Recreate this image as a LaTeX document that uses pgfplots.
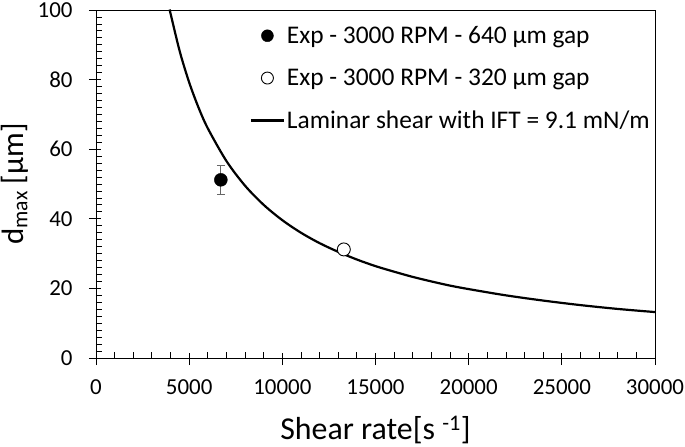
\documentclass[border=0pt]{standalone}
\usepackage{fontspec}
\setmainfont{Carlito}
\usepackage{pgfplots}
\pgfplotsset{compat=1.18}
\pgfplotsset{
    markleg/.style={legend image code/.code={\draw[mark repeat=2, mark phase=2, mark size=6bp, ##1] plot coordinates {(0bp,0bp) (16.5bp,0bp) (33bp,0bp)};}},
    lineleg/.style={legend image code/.code={\draw[##1, line width=2.2bp] (0bp,0bp) -- (33bp,0bp);}},
}

\begin{document}
\begin{tikzpicture}
\begin{axis}[
    scale only axis,
    width=559bp, height=348bp,
    xmin=0, xmax=30000,
    ymin=0, ymax=100,
    xtick={0,5000,...,30000},
    ytick={0,20,...,100},
    minor x tick num=4,
    minor y tick num=9,
    scaled x ticks=false,
    xticklabel style={/pgf/number format/1000 sep={}},
    /pgf/number format/assume math mode=true,
    xtick pos=bottom, ytick pos=left,
    tick align=inside,
    major tick length=12bp,
    minor tick length=6bp,
    major x tick style={yshift=-7bp},
    major y tick style={xshift=-7bp},
    tick style={black, line width=0.8bp},
    axis line style={black, line width=0.9bp},
    ticklabel style={font=\fontsize{23}{27}\selectfont, text=black},
    xticklabel style={yshift=-18bp},
    yticklabel style={xshift=-20bp},
    xlabel={Shear rate[s \textsuperscript{-1}]},
    ylabel={d\textsubscript{max} [µm]},
    xlabel style={font=\fontsize{32}{36}\selectfont, text=black,
        at={(axis description cs:0.5,0)}, anchor=center, yshift=-72bp},
    ylabel style={font=\fontsize{31}{35}\selectfont, text=black,
        at={(axis description cs:-0.145,0.5)}, anchor=center},
    legend style={draw=none, fill=none, inner sep=1bp,
        at={(rel axis cs:0.273,0.962)}, anchor=north west,
        font=\fontsize{25.5}{29}\selectfont, row sep=20bp,
        /tikz/every even column/.append style={column sep=2bp}},
    legend cell align=left,
]
\addplot[only marks, mark=*, mark size=6.5bp, black, markleg,
    error bars/.cd, y dir=both, y explicit,
    error bar style={gray!80!black, line width=0.8bp},
    error mark options={rotate=90, mark size=4bp, gray!80!black, line width=0.8bp}]
    coordinates {(6700, 51.2) +- (0, 4.2)};
\addlegendentry{Exp - 3000 RPM - 640 µm gap}

\addplot[only marks, mark=*, mark size=6.5bp, draw=black, fill=white,
    mark options={line width=0.9bp}, markleg]
    coordinates {(13300, 31.2)};
\addlegendentry{Exp - 3000 RPM - 320 µm gap}

\addplot[black, line width=2.2bp, smooth, lineleg,
    legend image post style={line width=2.2bp}] coordinates {
    (3960, 100) (4000, 99.0) (4500, 88.0) (5000, 79.2) (5500, 72.0)
    (6000, 66.0) (7000, 56.6) (8000, 49.5) (9000, 44.0) (10000, 39.6)
    (11000, 36.0) (12000, 33.0) (13000, 30.5) (14000, 28.3) (15000, 26.4)
    (16000, 24.8) (17000, 23.3) (18000, 22.0) (19000, 20.8) (20000, 19.8)
    (22000, 18.0) (24000, 16.5) (26000, 15.2) (28000, 14.1) (30000, 13.2)
};
\addlegendentry{Laminar shear with IFT = 9.1 mN/m}
\end{axis}
\pgfresetboundingbox
\path ([shift={(-96bp,-89bp)}]current axis.south west) rectangle ([shift={(30bp,10bp)}]current axis.north east);
\end{tikzpicture}
\end{document}
